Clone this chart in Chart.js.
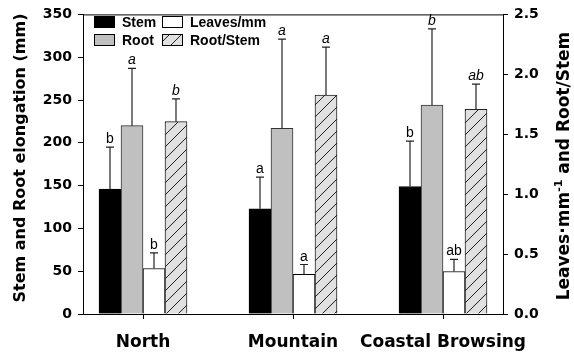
<!DOCTYPE html>
<html>
<head>
<meta charset="utf-8">
<script src="https://cdn.jsdelivr.net/npm/chart.js@4"></script>
<style>
  html, body { margin: 0; padding: 0; background: #fff; }
</style>
</head>
<body>
<canvas id="grafico" width="574" height="356"></canvas>
<script>
const sites = ["North", "Mountain", "Coastal Browsing"];

const stem = [146, 123, 149];
const stemErr = [49, 37, 53];
const stemLetters = ["b", "a", "b"];

const root = [220, 217, 244];
const rootErr = [67, 104, 89];
const rootLetters = ["a", "a", "b"];

const leaves = [0.38, 0.33, 0.355];
const leavesErr = [0.13, 0.083, 0.10];
const leavesLetters = ["b", "a", "ab"];

const rootStem = [1.605, 1.827, 1.708];
const rootStemErr = [0.19, 0.40, 0.21];
const rootStemLetters = ["b", "a", "ab"];

const leftTicks = [0, 50, 100, 150, 200, 250, 300, 350];
const rightTicks = [0, 0.5, 1.0, 1.5, 2.0, 2.5];

const tickFont = { family: 'DejaVu Sans', weight: 'bold', size: 14 };

function hatch() {
  const c = document.createElement('canvas');
  c.width = 12; c.height = 12;
  const g = c.getContext('2d');
  g.fillStyle = '#e0e0e0';
  g.fillRect(0, 0, 12, 12);
  g.strokeStyle = '#222';
  g.lineWidth = 1;
  g.beginPath();
  g.moveTo(0, 12); g.lineTo(12, 0);
  g.moveTo(-6, 6); g.lineTo(6, -6);
  g.moveTo(6, 18); g.lineTo(18, 6);
  g.stroke();
  return g.createPattern(c, 'repeat');
}
const hatchFill = hatch();

const pts = vals => vals.map((v, i) => ({ x: i, y: v }));

const extras = {
  id: 'extras',
  afterDatasetsDraw(chart) {
    const ctx = chart.ctx;
    const a = chart.chartArea;
    ctx.save();
    // error bars + letters
    chart.data.datasets.forEach((ds, di) => {
      const meta = chart.getDatasetMeta(di);
      const sc = chart.scales[ds.yAxisID];
      meta.data.forEach((bar, i) => {
        const top = sc.getPixelForValue(ds.data[i].y + ds.err[i]);
        ctx.strokeStyle = '#222';
        ctx.lineWidth = 1.2;
        ctx.beginPath();
        ctx.moveTo(bar.x, bar.y);
        ctx.lineTo(bar.x, top);
        ctx.moveTo(bar.x - 4, top);
        ctx.lineTo(bar.x + 4, top);
        ctx.stroke();
        ctx.fillStyle = '#000';
        ctx.font = (ds.italic ? 'italic ' : '') + '14px "Liberation Sans"';
        ctx.textAlign = 'center';
        ctx.textBaseline = 'alphabetic';
        ctx.fillText(ds.letters[i], bar.x, top - 4);
      });
    });
    // top frame line
    ctx.strokeStyle = '#000';
    ctx.lineWidth = 1;
    ctx.beginPath();
    ctx.moveTo(a.left, a.top + 0.5);
    ctx.lineTo(a.right, a.top + 0.5);
    ctx.stroke();
    // legend, two columns
    const spots = [[94, 16, 0], [94, 34, 1], [162, 16, 2], [162, 34, 3]];
    ctx.font = 'bold 14px "Liberation Sans"';
    ctx.textAlign = 'left';
    spots.forEach(([x, y, di]) => {
      const ds = chart.data.datasets[di];
      ctx.fillStyle = ds.backgroundColor;
      ctx.fillRect(x, y, 20, 11);
      ctx.strokeStyle = '#000';
      ctx.strokeRect(x + 0.5, y + 0.5, 20, 11);
      ctx.fillStyle = '#000';
      ctx.fillText(ds.label, x + 28, y + 11);
    });
    // axis titles
    ctx.save();
    ctx.translate(25, 158);
    ctx.rotate(-Math.PI / 2);
    ctx.font = 'bold 16px "DejaVu Sans"';
    ctx.textAlign = 'center';
    ctx.fillText('Stem and Root elongation (mm)', 0, 0);
    ctx.restore();

    ctx.save();
    ctx.translate(569, 166);
    ctx.rotate(-Math.PI / 2);
    const big = 'bold 17px "DejaVu Sans"', small = 'bold 11px "DejaVu Sans"';
    const p1 = 'Leaves\u00b7mm', p2 = '-1', p3 = ' and Root/Stem';
    ctx.font = big;
    const w1 = ctx.measureText(p1).width, w3 = ctx.measureText(p3).width;
    ctx.font = small;
    const w2 = ctx.measureText(p2).width;
    let x = -(w1 + w2 + w3) / 2;
    ctx.textAlign = 'left';
    ctx.font = big;
    ctx.fillText(p1, x, 0);
    x += w1;
    ctx.font = small;
    ctx.fillText(p2, x, -7);
    x += w2;
    ctx.font = big;
    ctx.fillText(p3, x, 0);
    ctx.restore();
    ctx.restore();
  }
};

new Chart(document.getElementById('grafico'), {
  type: 'bar',
  data: {
    datasets: [
      { label: 'Stem', data: pts(stem), err: stemErr, letters: stemLetters, italic: false,
        backgroundColor: '#000000', borderColor: '#000', borderWidth: 1, yAxisID: 'y' },
      { label: 'Root', data: pts(root), err: rootErr, letters: rootLetters, italic: true,
        backgroundColor: '#c0c0c0', borderColor: '#333', borderWidth: 1, yAxisID: 'y' },
      { label: 'Leaves/mm', data: pts(leaves), err: leavesErr, letters: leavesLetters, italic: false,
        backgroundColor: '#ffffff', borderColor: '#000', borderWidth: 1, yAxisID: 'y1' },
      { label: 'Root/Stem', data: pts(rootStem), err: rootStemErr, letters: rootStemLetters, italic: true,
        backgroundColor: hatchFill, borderColor: '#222', borderWidth: 1, yAxisID: 'y1' }
    ]
  },
  options: {
    responsive: false,
    animation: false,
    barThickness: 22,
    layout: { padding: { top: 13, left: 0, right: 0, bottom: 0 } },
    plugins: { legend: { display: false }, tooltip: { enabled: false } },
    scales: {
      x: {
        type: 'linear', min: -0.4, max: 2.4, offset: false,
        afterBuildTicks: s => { s.ticks = sites.map((_, i) => ({ value: i })); },
        afterFit: s => { s.height = 42; },
        grid: { drawOnChartArea: false, tickLength: 5, color: '#000', offset: false },
        border: { color: '#000' },
        ticks: { callback: v => sites[v], font: { family: 'DejaVu Sans', weight: 'bold', size: 17 },
                 color: '#000', padding: 13, maxRotation: 0, autoSkip: false }
      },
      y: {
        position: 'left', min: 0, max: 350,
        afterBuildTicks: s => { s.ticks = leftTicks.map(v => ({ value: v })); },
        afterFit: s => { s.width = 83; },
        grid: { drawOnChartArea: false, tickLength: 5, color: '#000' },
        border: { color: '#000' },
        ticks: { font: tickFont, color: '#000', padding: 6 }
      },
      y1: {
        position: 'right', min: 0, max: 2.5,
        afterBuildTicks: s => { s.ticks = rightTicks.map(v => ({ value: v })); },
        afterFit: s => { s.width = 71; },
        grid: { drawOnChartArea: false, tickLength: 5, color: '#000' },
        border: { color: '#000' },
        ticks: { font: tickFont, color: '#000', padding: 6, callback: v => v.toFixed(1) }
      }
    }
  },
  plugins: [extras]
});
</script>
</body>
</html>
